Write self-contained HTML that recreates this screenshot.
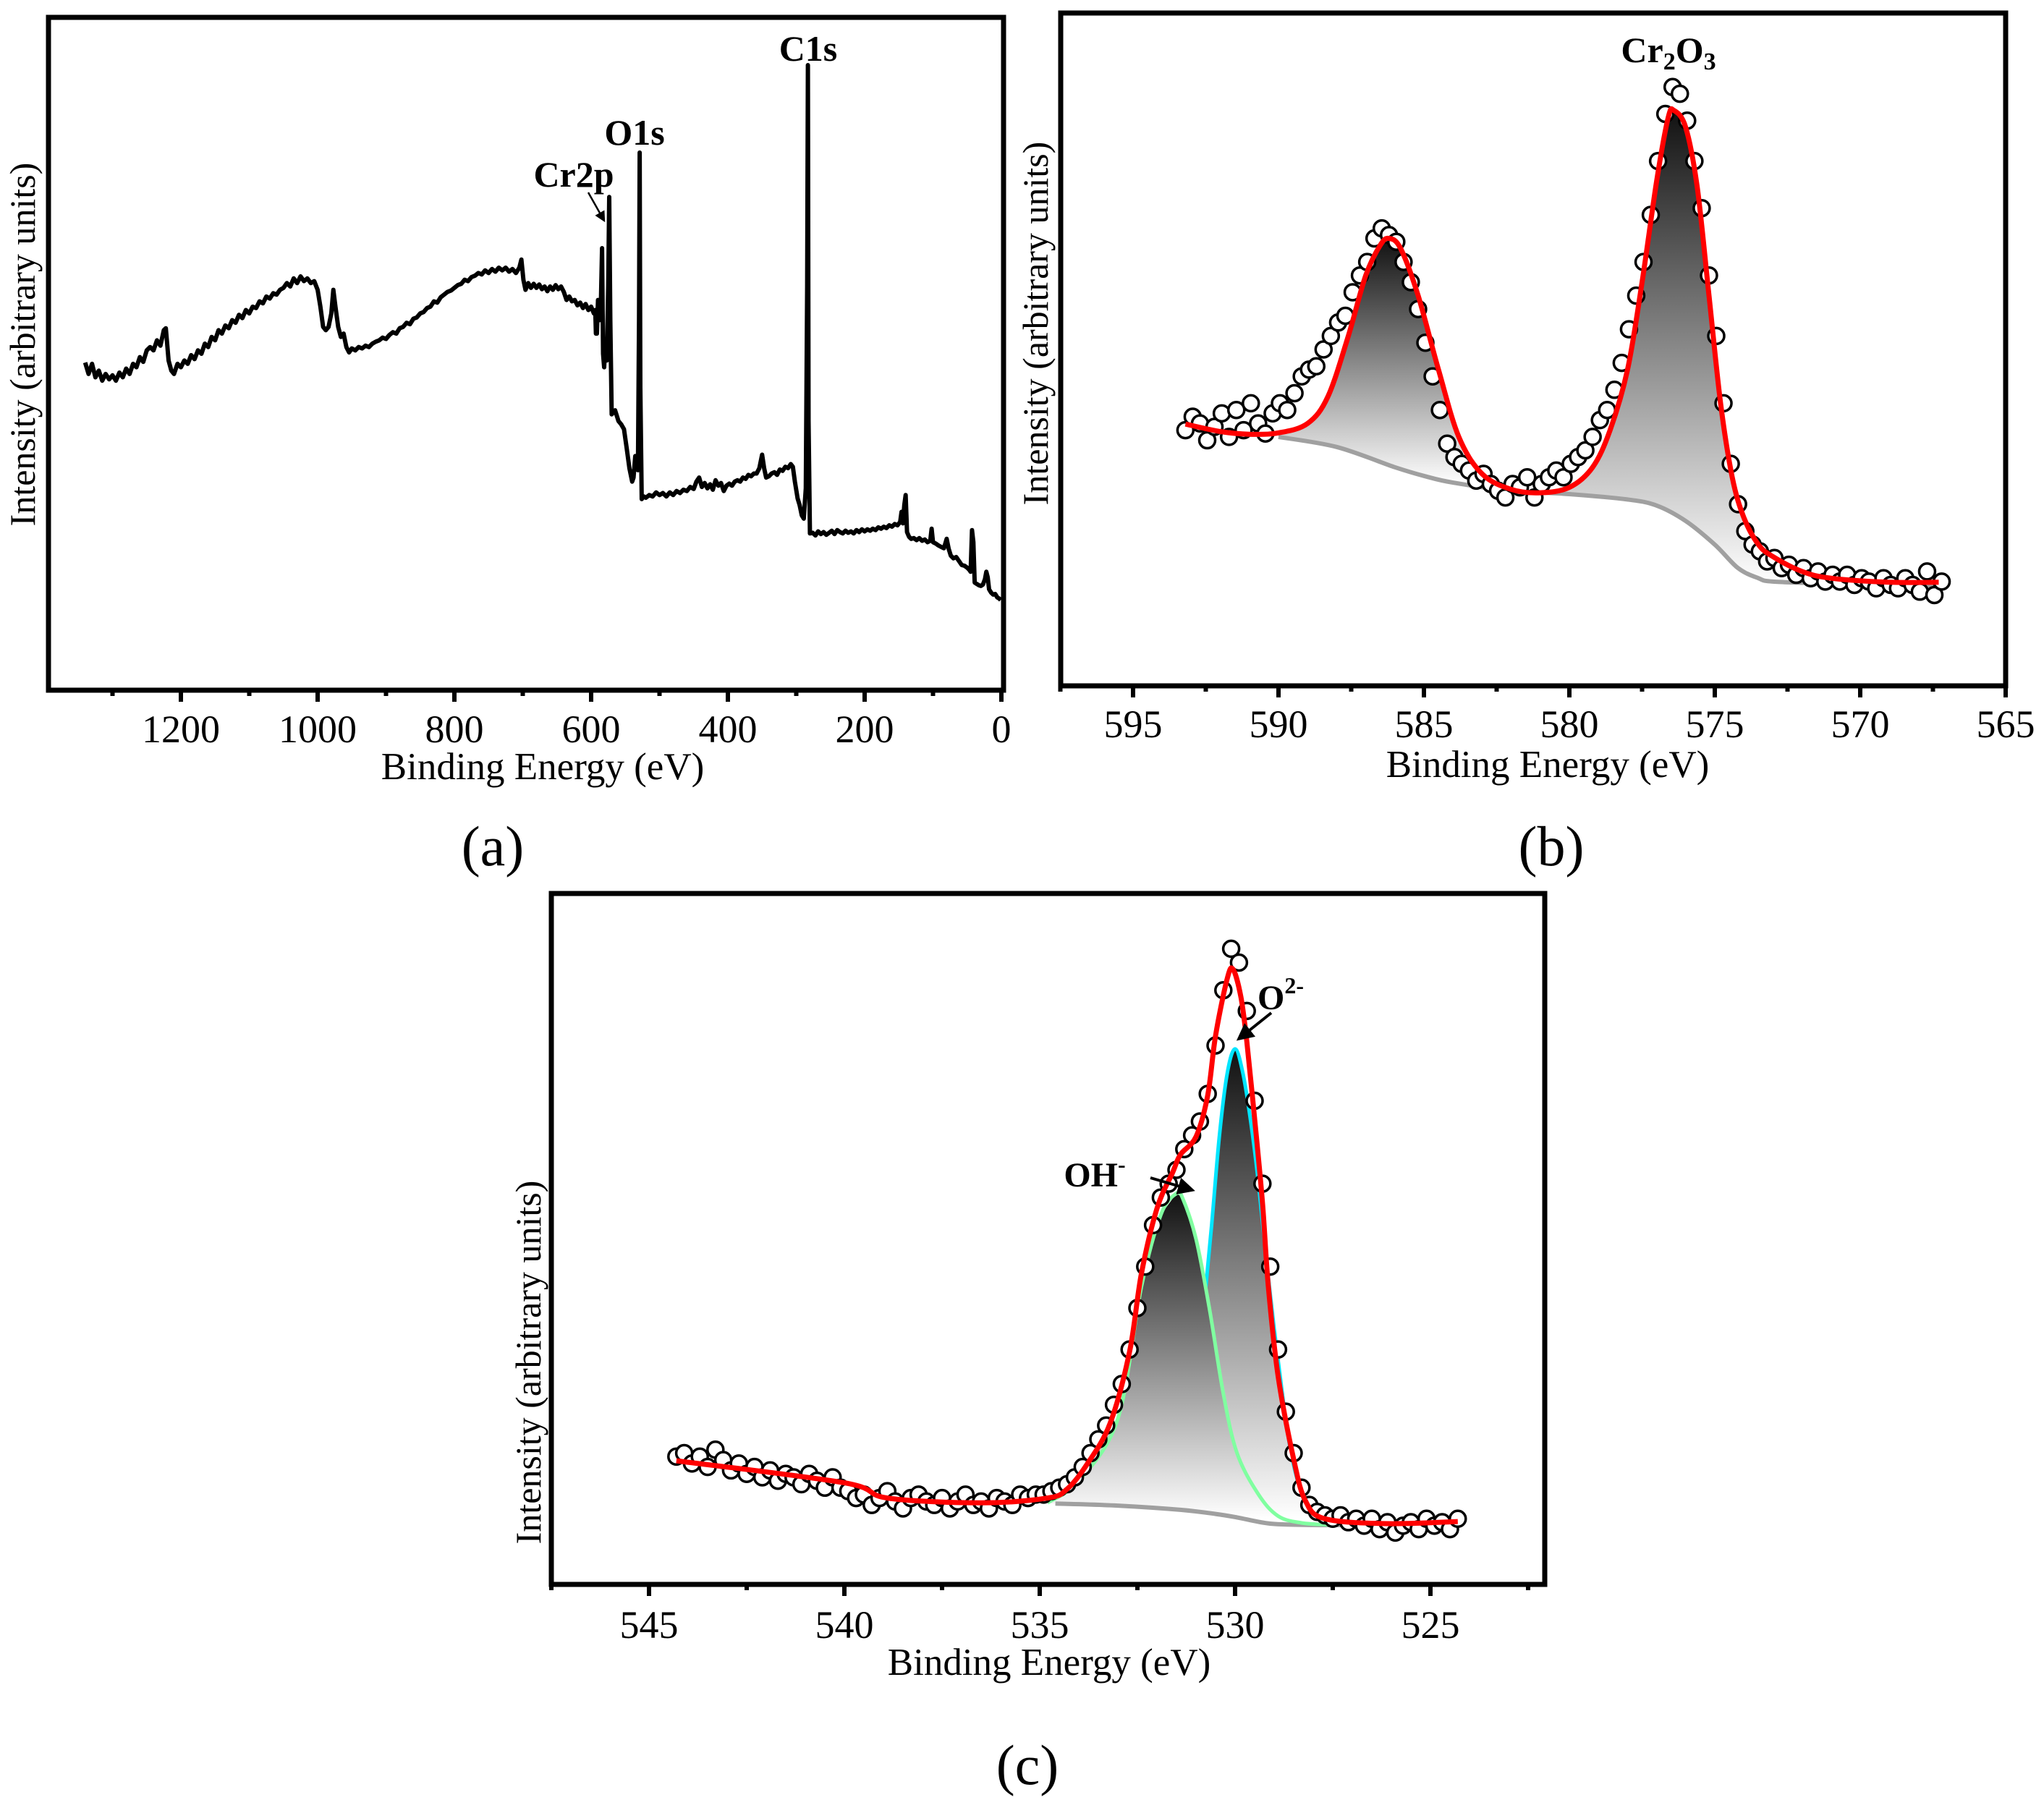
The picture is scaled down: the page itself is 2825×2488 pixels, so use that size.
<!DOCTYPE html>
<html><head><meta charset="utf-8"><style>
html,body{margin:0;padding:0;background:#fff}
svg{display:block}
text{font-family:"Liberation Serif",serif;fill:#000}
</style></head><body>
<svg id="fig" xmlns="http://www.w3.org/2000/svg" width="2825" height="2488" viewBox="0 0 2825 2488">
<defs>
<linearGradient id="gB1" gradientUnits="userSpaceOnUse" x1="0" y1="330" x2="0" y2="670"><stop offset="0" stop-color="#111"/><stop offset="1" stop-color="#fff"/></linearGradient>
<linearGradient id="gB2" gradientUnits="userSpaceOnUse" x1="0" y1="150" x2="0" y2="810"><stop offset="0" stop-color="#111"/><stop offset="1" stop-color="#fff"/></linearGradient>
<linearGradient id="gC1" gradientUnits="userSpaceOnUse" x1="0" y1="1650" x2="0" y2="2100"><stop offset="0" stop-color="#111"/><stop offset="1" stop-color="#fff"/></linearGradient>
<linearGradient id="gC2" gradientUnits="userSpaceOnUse" x1="0" y1="1450" x2="0" y2="2100"><stop offset="0" stop-color="#111"/><stop offset="1" stop-color="#fff"/></linearGradient>
<marker id="arr" markerWidth="6" markerHeight="6" refX="5" refY="3" orient="auto" markerUnits="strokeWidth"><path d="M0,0 L6,3 L0,6 z" fill="#000"/></marker>
</defs>
<g id="pa"></g>
<g id="pb"></g>
<g id="pc"></g>
</svg>
<script>
// ---------- Panel (a) survey data ----------
const aE=[1340,1335,1330,1325,1320,1315,1310,1305,1300,1295,1290,1285,1280,1275,1270,1265,1260,1255,1250,1245,1240,1235,1230,1225,1222,1218,1214,1210,1205,1200,1195,1190,1185,1180,1175,1170,1165,1160,1155,1150,1145,1140,1135,1130,1125,1120,1115,1110,1105,1100,1095,1090,1085,1080,1075,1070,1065,1060,1055,1050,1045,1040,1035,1030,1025,1020,1015,1010,1005,1000,996,992,988,984,980,977,974,970,966,962,958,954,950,945,940,935,930,925,920,915,910,905,900,895,890,885,880,875,870,865,860,855,850,845,840,835,830,825,820,815,810,805,800,795,790,785,780,775,770,765,760,755,750,745,740,735,730,725,720,715,710,705,702,699,696,692,688,684,680,676,672,668,664,660,656,652,648,644,640,636,632,628,624,620,616,612,608,604,600,596,594,593,591.5,590,588,586,584,582.5,581,579,577,575,573.5,572,570,565,560,556,552,548,544,540,538,535.5,533,531.5,530,529,528,526,523,520,515,510,505,500,495,490,485,480,475,470,465,460,455,450,446,442,438,434,430,426,422,418,414,410,406,402,398,394,390,386,382,378,374,370,366,362,358,354,350,347,344,340,336,332,328,324,320,316,312,308,305,302,298,295,292,289,286,284,283,282,280,276,272,268,264,260,256,252,248,244,240,236,232,228,224,220,216,212,208,204,200,196,192,188,184,180,176,172,168,164,160,156,152,148,146,144,142,140,138,135,132,128,124,120,116,112,108,104,102,100,96,92,88,84,80,77,74,70,66,62,58,54,50,47,45,43,41,39,36,33,30,27,24,22,20,18,15,12,9,6,3,1];
const aI=[48.7,47,48.5,46.5,47.5,46,47,46.2,46.8,46,47.2,46.5,47.8,47,48.5,48,49.5,48.8,50.5,51,50.5,52,51.2,53.5,53.8,49,47.5,47,48.5,48,49,48.5,49.8,49.2,50.5,50,51.5,51,52.5,52,53.5,53,54.2,53.8,55,54.6,55.8,55.3,56.5,56,57,56.8,57.8,57.5,58.5,58.2,59,58.8,59.5,59.8,60.5,60,61.2,60.5,61.5,60.8,61.2,60.5,60.8,59.5,57,54,53.5,54,56,59.5,57,54,52.5,53,51,50.2,50.8,50.5,51,50.8,51.2,51,51.5,51.8,52,52.4,52.2,52.8,53.2,53,53.8,54,54.6,54.4,55.2,55.4,56,56.2,56.8,57,57.8,57.6,58.4,58.8,59.2,59.4,59.8,60.2,60.4,61,60.8,61.4,61.6,62,61.8,62.4,62,62.6,62.2,62.8,62.4,62.8,62.2,62.6,62,62.8,64,61,59.5,60.5,59.8,60.4,59.8,60.3,59.6,60,59.3,60,59.5,60.2,59.6,60,59.2,58,58.5,57.8,58,57.2,57.6,56.8,57.4,56.5,57,56,56.5,53,53,58,55,56,65.7,50,48,52,49,60,73.3,55,41,41.6,40,39.5,38.8,36,33,31,31.6,34.8,33,32.7,55,79.9,45,28.4,28.8,28.6,29,28.8,29.4,29,29.3,28.8,29.4,29,29.6,29.3,29.8,29.6,30.2,29.9,31,31.6,30.2,30.8,30,30.6,29.8,31.2,30.4,30.8,29.6,30.4,30.7,30.4,31,31.2,31,31.6,31.4,32,31.8,32.2,32.2,33,35,33,31.6,31.8,32.2,32.4,32,32.8,32.6,33.2,33,33.6,33.2,31,28.5,27.5,26,25.5,30,60,92.9,40,23.3,23.4,23,23.6,23.2,23.5,23.1,23.4,23.7,23.2,23.8,23.5,23.3,23.7,23.4,23.6,23.3,23.8,23.5,23.9,23.6,23.9,23.7,24,23.8,24.2,24,24.3,24.1,24.5,24.3,24.7,24.5,25,26.5,24.8,27.5,29,23.5,22.8,22.5,22.6,22.3,22.6,22.2,22.4,22,22.2,24,22,21.8,21.5,21.3,21.1,22.5,21,20,19.6,19.8,19.2,18.6,18.5,18.2,17.9,17.6,23.8,22,16,15.8,15.6,15.5,15.7,16.5,17.6,16.8,15,14.5,14.2,14.3,13.8,13.6,13.4];
const aMajor=[1200,1000,800,600,400,200,0];
const aMinor=[1300,1100,900,700,500,300,100];

// ---------- Panel (b) Cr2p data ----------
const bStart=593.2, bStep=0.25;
const bI=[38,40,39,36.5,38.5,40.5,37,41,38,42,39,37.5,40.5,42,41,43.5,46,47,47.5,50,52,54,55,58.5,61,63,66.5,68,67,66,63,60,56,51,46,41,36,34,33,32,30.5,31.5,30,29,28,30,29.5,31,28,30,31,32,31,33,34,35,37,39.5,41,44,48,53,58,63,70,78,85,89,88,84,78,71,61,52,42,33,27,23,21,20,18.5,19,17.5,18,16.5,17.5,16,17,15.5,16.5,15.5,16.5,15,16,15.5,14.5,16,15,14.5,16,15,14,17,13.5,15.5];
const bFitE=[593.2,592,591,590,589,588.3,587.6,587,586.5,586.2,585.8,585.2,584.5,583.8,583,582,581,580,579.2,578.6,578,577.5,577,576.6,576.4,576,575.6,575.2,574.8,574.4,574,573.5,573,572,571,569,567.3];
const bFitI=[38.9,37.8,37.4,37.6,39,43,52,61,65.5,66.5,65,58,47,37,31.5,29.2,28.7,29.5,32.5,38,47,60,75,84.5,85.5,83,74,58,42,31,25,21,19.2,17,16,15.4,15.4];
const bBgE=[590,588,586,585,584,582,580,578,577,576,575,574.2,573.5,573,571,569,567.3];
const bBgI=[37,35.5,32.5,31.2,30.2,29,28.5,27.7,26.8,24.5,21,17.5,16,15.5,15.2,15,14.9];
const bMajor=[595,590,585,580,575,570,565];
const bMinor=[597.5,592.5,587.5,582.5,577.5,572.5,567.5];

// ---------- Panel (c) O1s data ----------
const cStart=544.3, cStep=0.2;
const cI=[18.5,19,17.5,18.5,17,19.5,18,16.5,17.5,16,17,15.5,16.5,15,16,15.5,14.5,16,15,14,15.5,14,13.5,12.5,13,11.5,12.5,13.5,12,11,12.5,13,12,11.5,12.5,11,12,13,11.5,12,11,12.5,12,11.5,13,12.5,13,13,13.5,14,14.5,15.5,17,19,21,23,26,29,34,40,46,52,56,58,60,63,65,67,71,78,86,92,90,83,70,58,46,34,25,19,14,11.5,10.5,10,9.5,10,9,9.5,8.5,9.5,8,9,7.5,8.5,9,8,9.5,8.5,9,8,9.5];
const cFitE=[544.3,540,538.9,536.5,534.8,534.3,533.8,533.2,532.7,532.4,532.0,531.6,531.4,531.0,530.7,530.5,530.2,530.05,529.85,529.7,529.5,529.3,529.15,528.9,528.5,528.2,527.7,526.1,524.3];
const cFitI=[17.9,14.7,12.5,11.8,12.5,13.8,17.3,23.3,33.7,44.9,54.4,59.6,62.2,64.8,70.8,79.4,87.7,89,85,78.6,67.4,55.3,43.2,30.2,18.1,12.1,9.5,8.8,9.1];
const cOhE=[534.8,534,533.0,532.4,531.9,531.5,531.35,531.0,530.65,530.3,529.95,529.4,528.9,528.3,527.5];
const cOhI=[11.8,15,24,43,53.5,56.6,56,50,39.7,27.6,19,13,9.9,8.9,8.6];
const cO2E=[531.2,531,530.8,530.6,530.4,530.2,530.0,529.8,529.6,529.4,529.2,529,528.8,528.6,528.4,528.2,528,527.6,527.2];
const cO2I=[18,30,40,52,65,74,77.5,74,67,58,47,37,28,20,15,12,10.8,10.2,9.8];
const cBgE=[534.6,533,531.4,530.5,529.95,529.1,528,527];
const cBgI=[11.7,11.4,10.8,10.2,9.7,8.8,8.6,8.6];
const cMajor=[545,540,535,530,525];
const cMinor=[547.5,542.5,537.5,532.5,527.5,522.5];

const NS='http://www.w3.org/2000/svg';
function mk(parent,tag,attrs){const el=document.createElementNS(NS,tag);for(const k in attrs)el.setAttribute(k,attrs[k]);parent.appendChild(el);return el;}
function smooth(pts){let d='M'+pts[0][0].toFixed(1)+','+pts[0][1].toFixed(1);for(let i=0;i<pts.length-1;i++){const p0=pts[i-1]||pts[i],p1=pts[i],p2=pts[i+1],p3=pts[i+2]||p2;const c1=[p1[0]+(p2[0]-p0[0])/6,p1[1]+(p2[1]-p0[1])/6],c2=[p2[0]-(p3[0]-p1[0])/6,p2[1]-(p3[1]-p1[1])/6];d+='C'+c1[0].toFixed(1)+','+c1[1].toFixed(1)+' '+c2[0].toFixed(1)+','+c2[1].toFixed(1)+' '+p2[0].toFixed(1)+','+p2[1].toFixed(1);}return d;}
function interp(E,I,e){for(let i=0;i<E.length-1;i++){if((e<=E[i]&&e>=E[i+1])){const t=(E[i]-e)/(E[i]-E[i+1]);return I[i]+t*(I[i+1]-I[i]);}}return e>E[0]?I[0]:I[I.length-1];}

function frame(g,x0,y0,x1,y1,sx,major,minor,lblY,name){
  const f=mk(g,'rect',{x:x0,y:y0,width:x1-x0,height:y1-y0,fill:'none',stroke:'#000','stroke-width':7});
  
  
  major.forEach(v=>{const x=sx(v);const t=mk(g,'line',{x1:x,x2:x,y1:y1,y2:y1+16,stroke:'#000','stroke-width':6});
    
    
    const l=mk(g,'text',{x:x,y:lblY,'text-anchor':'middle','font-size':54});l.textContent=v;
    
    });
  minor.forEach(v=>{const x=sx(v);const t=mk(g,'line',{x1:x,x2:x,y1:y1,y2:y1+8,stroke:'#000','stroke-width':6});
    
    });
}
function txt(g,s,x,y,size,name,opts){const t=mk(g,'text',Object.assign({x:x,y:y,'text-anchor':'middle','font-size':size},opts||{}));t.innerHTML=s;
  
  return t;}

// ---- Panel A ----
(function(){
const g=document.getElementById('pa');
const sx=e=>1384-e*0.945, sy=v=>954-v*9.3;
frame(g,67,24,1387,954,sx,aMajor,aMinor,1026,'panel-a');
const pts=aE.map((e,i)=>sx(e).toFixed(1)+','+sy(aI[i]).toFixed(1)).join(' ');
const l=mk(g,'polyline',{points:pts,fill:'none',stroke:'#000','stroke-width':6,'stroke-linejoin':'round'});


txt(g,'C1s',1117,84,50,'c1s-label',{'font-weight':'bold'});
txt(g,'O1s',877,200,50,'o1s-label',{'font-weight':'bold'});
txt(g,'Cr2p',793,258,50,'cr2p-label',{'font-weight':'bold'});
const ar=mk(g,'line',{x1:813,y1:266,x2:835,y2:305,stroke:'#000','stroke-width':2.5,'marker-end':'url(#arr)'});


txt(g,'Intensity (arbitrary units)',0,0,50,'panel-a-y-axis-title',{transform:'translate(48,476) rotate(-90)'});
txt(g,'Binding Energy (eV)',750,1077,53,'panel-a-x-axis-title');
txt(g,'(a)',681,1196,78,'panel-a-label');
})();

// ---- Panel B ----
(function(){
const g=document.getElementById('pb');
const sx=e=>2772-(e-565)*40.2, sy=v=>948-v*9.3;
frame(g,1466,18,2772,948,sx,bMajor,bMinor,1019,'panel-b');
function region(lo,hi,grad,name){const fe=[],fb=[];for(let e=hi;e>=lo-1e-9;e-=0.1){fe.push(sx(e).toFixed(1)+','+sy(interp(bFitE,bFitI,e)).toFixed(1));fb.unshift(sx(e).toFixed(1)+','+sy(interp(bBgE,bBgI,e)).toFixed(1));}
 const p=mk(g,'polygon',{points:fe.concat(fb).join(' '),fill:'url(#'+grad+')'});
 
 }
region(581,590,'gB1','peak-2p12-fill');
region(567.3,581,'gB2','peak-2p32-fill');
const bg=mk(g,'path',{d:smooth(bBgE.map((e,i)=>[sx(e),sy(bBgI[i])])),fill:'none',stroke:'#a0a0a0','stroke-width':6});


bI.forEach((v,i)=>{const e=bStart-i*bStep;const c=mk(g,'circle',{cx:sx(e),cy:sy(v),r:11,fill:'#fff',stroke:'#000','stroke-width':3.5});
  
  });
const fit=mk(g,'path',{d:smooth(bFitE.map((e,i)=>[sx(e),sy(bFitI[i])])),fill:'none',stroke:'#f00','stroke-width':7});


txt(g,'Cr<tspan font-size="34" dy="10">2</tspan><tspan dy="-10">O</tspan><tspan font-size="34" dy="10">3</tspan>',2306,86,50,'cr2o3-label',{'font-weight':'bold'});
txt(g,'Intensity (arbitrary units)',0,0,50,'panel-b-y-axis-title',{transform:'translate(1448,447) rotate(-90)'});
txt(g,'Binding Energy (eV)',2139,1074,53,'panel-b-x-axis-title');
txt(g,'(b)',2144,1196,78,'panel-b-label');
})();

// ---- Panel C ----
(function(){
const g=document.getElementById('pc');
const sx=e=>897-(e-545)*54, sy=v=>2190-v*9.55;
frame(g,762,1235,2135,2190,sx,cMajor,cMinor,2264,'panel-c');
function region(E,I,grad,name){const lo=E[E.length-1],hi=E[0];const fe=[],fb=[];for(let e=hi;e>=lo-1e-9;e-=0.05){fe.push(sx(e).toFixed(1)+','+sy(interp(E,I,e)).toFixed(1));fb.unshift(sx(e).toFixed(1)+','+sy(interp(cBgE,cBgI,e)).toFixed(1));}
 const p=mk(g,'polygon',{points:fe.concat(fb).join(' '),fill:'url(#'+grad+')'});
 
 }
region(cO2E,cO2I,'gC2','o2-peak-fill');
const cy=mk(g,'path',{d:smooth(cO2E.map((e,i)=>[sx(e),sy(cO2I[i])])),fill:'none',stroke:'#00e5ff','stroke-width':5});


region(cOhE,cOhI,'gC1','oh-peak-fill');
const bg=mk(g,'path',{d:smooth(cBgE.map((e,i)=>[sx(e),sy(cBgI[i])])),fill:'none',stroke:'#a0a0a0','stroke-width':6});


const gr=mk(g,'path',{d:smooth(cOhE.map((e,i)=>[sx(e),sy(cOhI[i])])),fill:'none',stroke:'#80ffa0','stroke-width':5});


cI.forEach((v,i)=>{const e=cStart-i*cStep;const c=mk(g,'circle',{cx:sx(e),cy:sy(v),r:11,fill:'#fff',stroke:'#000','stroke-width':3.5});
  
  });
const fit=mk(g,'path',{d:smooth(cFitE.map((e,i)=>[sx(e),sy(cFitI[i])])),fill:'none',stroke:'#f00','stroke-width':7});


txt(g,'OH<tspan font-size="32" dy="-20">-</tspan>',1513,1640,48,'oh-label',{'font-weight':'bold'});
txt(g,'O<tspan font-size="32" dy="-22">2-</tspan>',1770,1395,48,'o2-label',{'font-weight':'bold'});
const a1=mk(g,'line',{x1:1590,y1:1628,x2:1648,y2:1645,stroke:'#000','stroke-width':4,'marker-end':'url(#arr)'});


const a2=mk(g,'line',{x1:1757,y1:1400,x2:1712,y2:1436,stroke:'#000','stroke-width':4,'marker-end':'url(#arr)'});


txt(g,'Intensity (arbitrary units)',0,0,50,'panel-c-y-axis-title',{transform:'translate(747,1883) rotate(-90)'});
txt(g,'Binding Energy (eV)',1450,2315,53,'panel-c-x-axis-title');
txt(g,'(c)',1420,2466,78,'panel-c-label');
})();
</script>
</body></html>
